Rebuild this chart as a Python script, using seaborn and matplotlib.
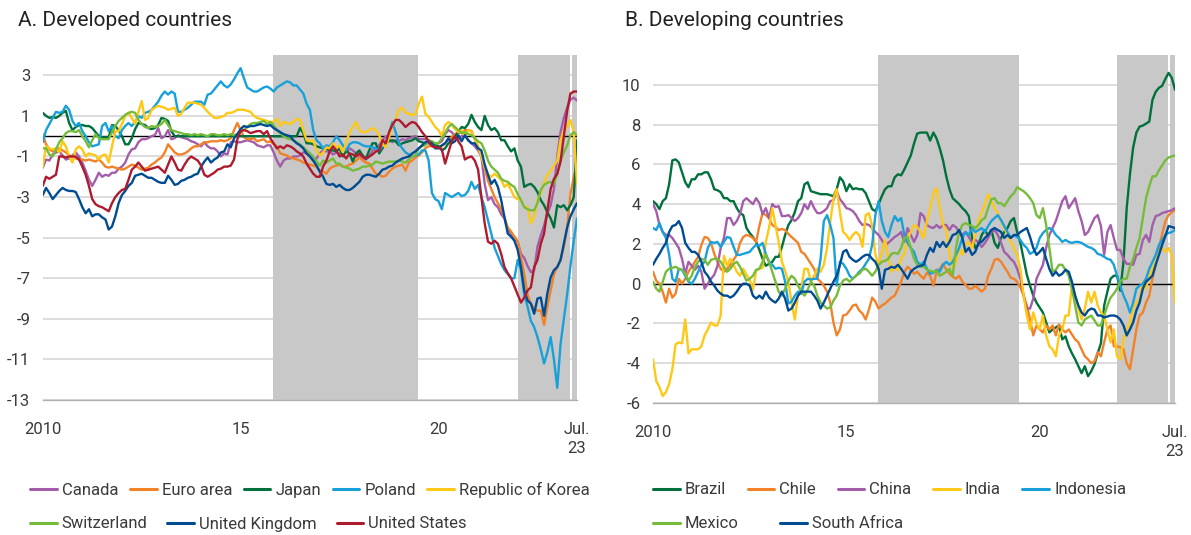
import numpy as np
import pandas as pd
import matplotlib
matplotlib.use("Agg")
import matplotlib.pyplot as plt
import seaborn as sns
from matplotlib.lines import Line2D

# ---------------- data (monthly, Jan 2010 - Jul 2023) ----------------
canada = [
    -1.55, -1.15, -1.2, -0.9, -0.8, -0.75, -0.95, -1.15, -1.1, -0.95, -0.8, -1.0,
    -1.3, -1.7, -2.15, -2.45, -2.15, -1.8, -2.0, -1.9, -1.95, -1.8, -1.8, -1.6,
    -1.5, -1.3, -0.9, -0.65, -0.6, -0.3, -0.15, -0.15, -0.1, 0.0, 0.05, 0.4,
    -0.1, 0.0, 0.3, -0.15, -0.1, 0.05, -0.05, -0.1, -0.15, -0.25, -0.3, -0.4,
    -0.5, -0.3, -0.5, -0.6, -0.6, -0.75, -1.0, -0.85, -0.9, -0.3, -0.25, -0.3,
    -0.3, -0.25, -0.2, -0.25, -0.3, -0.45, -0.5, -0.55, -0.45, -0.45, -0.8, -1.2,
    -1.5, -1.2, -1.1, -1.1, -1.0, -1.0, -0.95, -0.8, -0.85, -1.0, -1.2, -1.1,
    -0.85, -0.7, -0.75, -0.75, -0.9, -0.8, -0.85, -0.85, -0.8, -0.6, -0.7, -0.85,
    -1.0, -1.1, -1.15, -1.0, -0.7, -0.6, -0.45, -0.2, 0.0, -0.15, -0.3, -0.2,
    -0.25, -0.15, -0.2, -0.1, -0.05, 0.0, -0.15, -0.15, -0.15, -0.2, -0.3, -0.35,
    -0.35, -0.25, 0.1, 0.3, 0.2, 0.0, -0.15, 0.0, 0.05, -0.2, -0.35, -0.5,
    -0.7, -1.0, -2.35, -3.15, -3.0, -3.35, -3.5, -3.85, -4.05, -4.6, -4.8, -5.0,
    -5.2, -5.8, -6.0, -6.4, -6.7, -6.6, -5.45, -4.9, -4.4, -3.8, -3.4, -2.6,
    -1.0, 0.2, 0.9, 1.4, 1.8, 1.9, 1.75]
euro_area = [
    0.1, -0.4, -0.65, -0.75, -0.7, -0.6, -0.7, -0.8, -0.95, -1.0, -1.1, -1.15,
    -1.15, -1.2, -1.15, -1.2, -1.25, -1.15, -1.3, -1.5, -1.55, -1.5, -1.55, -1.6,
    -1.65, -1.6, -1.5, -1.4, -1.45, -1.55, -1.65, -1.6, -1.55, -1.4, -1.3, -1.15,
    -1.05, -0.8, -0.4, -0.6, -0.8, -0.9, -0.9, -0.85, -0.75, -0.6, -0.5, -0.5,
    -0.4, -0.3, -0.3, -0.25, -0.25, -0.25, -0.2, -0.25, -0.2, -0.1, 0.3, 0.65,
    0.3, -0.05, -0.15, -0.15, -0.1, -0.25, -0.2, -0.15, -0.3, -0.25, -0.4, -0.5,
    -0.85, -0.9, -0.95, -1.05, -1.1, -1.15, -1.2, -1.3, -1.35, -1.4, -1.45, -1.5,
    -1.7, -1.75, -1.85, -1.6, -1.5, -1.45, -1.4, -1.5, -1.5, -1.4, -1.35, -1.2,
    -1.05, -1.2, -1.3, -1.35, -1.6, -1.85, -1.9, -2.0, -1.95, -1.75, -1.6, -1.5,
    -1.45, -1.4, -1.7, -1.3, -1.2, -1.05, -0.95, -0.8, -0.6, -0.5, -0.45, -0.45,
    -0.5, -0.5, -0.35, -0.15, -0.05, 0.1, 0.2, 0.15, 0.3, 0.3, 0.25, -0.15,
    -0.55, -1.0, -1.6, -2.2, -2.6, -3.0, -3.3, -3.6, -4.0, -4.5, -4.7, -4.95,
    -5.2, -5.95, -6.8, -7.8, -8.25, -8.5, -8.6, -8.6, -9.3, -8.4, -7.6, -6.8,
    -6.45, -6.1, -5.45, -4.5, -2.85, -2.0, -1.5]
japan = [
    1.15, 1.0, 0.9, 0.95, 0.9, 1.0, 1.15, 1.25, 0.65, 0.3, 0.45, 0.55,
    0.55, 0.5, 0.5, 0.4, 0.2, 0.0, -0.05, -0.05, -0.05, 0.55, 0.5, 0.3,
    0.0, -0.4, -0.4, -0.1, 0.35, 0.65, 0.6, 0.55, 0.4, 0.35, 0.4, 0.55,
    0.9, 0.85, 0.75, 0.25, 0.0, 0.0, 0.0, 0.0, 0.0, 0.0, 0.0, 0.0,
    0.0, 0.0, 0.0, 0.0, 0.0, 0.0, 0.0, 0.0, 0.0, 0.0, 0.0, 0.0,
    0.0, 0.0, 0.0, 0.0, 0.0, 0.0, 0.0, 0.0, 0.0, 0.0, 0.0, 0.0,
    0.0, 0.0, 0.0, 0.0, 0.0, 0.0, 0.4, 0.15, -0.35, -0.35, -0.4, -0.5,
    -0.55, -0.6, -0.6, -0.7, -0.7, -0.75, -0.6, -1.0, -0.7, -0.85, -1.25, -0.85,
    -0.7, -0.95, -1.1, -0.7, -0.35, -0.35, -0.85, -0.6, -0.35, -0.25, -0.2, -0.25,
    -0.45, -0.35, -0.3, -0.25, -0.2, -0.1, -0.25, -0.3, -0.35, -0.35, -0.35, -0.45,
    -0.5, -0.7, -0.6, -0.35, -0.2, 0.0, 0.2, 0.45, 0.4, 0.6, 1.05, 0.7,
    0.45, 0.3, 1.0, 0.55, 0.3, 0.4, 0.2, -0.2, -0.2, -0.5, -0.75, -0.6,
    -1.2, -1.5, -2.5, -2.4, -2.35, -2.5, -2.75, -3.15, -3.4, -3.75, -4.05, -4.5,
    -3.4, -3.5, -3.4, -3.65, -3.4, -3.0, -0.2]
poland = [
    -0.3, 0.3, 0.6, 0.9, 1.2, 1.15, 1.2, 1.5, 1.3, 0.75, 0.5, 0.65,
    0.25, 0.0, -0.3, -0.5, -0.45, -0.4, 0.5, 0.65, 0.25, 0.5, 0.0, -0.1,
    0.3, 0.5, 0.65, 0.5, 0.7, 1.0, 0.9, 1.15, 1.2, 1.3, 1.5, 1.7,
    2.0, 2.2, 2.05, 2.2, 2.1, 1.2, 1.2, 1.3, 1.4, 1.55, 1.7, 1.7,
    1.7, 1.55, 2.05, 2.1, 2.3, 2.5, 2.7, 2.5, 2.4, 2.55, 2.8, 3.1,
    3.35, 2.85, 2.4, 2.3, 2.2, 2.2, 2.3, 2.4, 2.45, 2.35, 2.2, 2.4,
    2.5, 2.6, 2.7, 2.65, 2.5, 2.5, 2.3, 2.1, 1.6, 1.3, 0.3, -0.2,
    -0.35, -0.6, -0.45, -0.5, -0.3, 0.0, -0.2, -0.45, -0.7, -0.4, -0.3, -0.3,
    -0.35, -0.45, -0.5, -0.5, -0.55, -0.6, -0.7, -0.5, -0.35, 0.1, 0.7, 0.2,
    -0.35, -0.6, -0.8, -0.9, -1.0, -0.95, -0.9, -0.7, -0.7, -1.2, -2.8, -3.1,
    -3.2, -3.6, -2.8, -2.9, -3.0, -2.9, -2.8, -2.95, -2.9, -2.7, -2.25, -2.6,
    -2.4, -3.0, -3.5, -4.15, -4.8, -5.5, -5.9, -6.3, -6.6, -6.8, -7.0, -7.0,
    -6.1, -6.6, -7.8, -8.4, -9.1, -9.4, -9.9, -10.5, -11.2, -10.65, -9.9, -11.0,
    -12.4, -10.25, -9.0, -7.8, -6.4, -5.15, -4.05]
korea = [
    -1.5, -0.5, -0.6, -0.65, -0.6, -0.8, -0.25, -0.5, -1.0, -1.3, -0.65, -0.5,
    -0.65, -1.0, -0.85, -0.9, -0.95, -1.15, -0.95, -0.9, -1.3, -0.5, 0.25, 0.25,
    0.6, 1.0, 1.15, 0.9, 0.6, 1.2, 1.73, 0.8, 0.9, 1.3, 1.4, 1.5,
    1.45, 1.4, 1.3, 1.35, 1.4, 1.0, 1.1, 1.4, 1.65, 1.65, 1.65, 1.6,
    1.55, 1.4, 1.2, 1.05, 0.9, 0.9, 0.95, 1.0, 1.15, 1.15, 1.2, 1.3,
    1.3, 1.3, 1.25, 1.2, 1.0, 0.9, 0.85, 0.8, 0.75, 0.7, 0.7, 0.85,
    0.5, 0.7, 0.65, 0.6, 0.7, 0.85, 0.8, 0.3, -0.2, -0.25, -0.2, -0.7,
    -0.95, -0.8, -0.55, -0.6, -0.35, -0.6, -0.45, -0.8, -0.35, 0.2, 0.45, 0.7,
    0.3, 0.2, 0.2, 0.3, 0.4, 0.3, 0.05, -0.4, -0.55, -0.05, 0.5, 0.85,
    1.3, 1.4, 1.15, 1.1, 1.05, 1.05, 1.6, 1.95, 1.1, 0.95, 0.7, 0.45,
    0.3, 0.0, 0.55, 0.7, 0.55, 0.35, 0.2, 0.3, 0.0, 0.3, 0.2, -0.1,
    -0.5, -1.0, -1.5, -1.9, -2.0, -1.85, -2.0, -2.15, -2.5, -2.35, -2.65, -3.0,
    -3.1, -3.15, -3.5, -3.5, -4.3, -3.95, -3.15, -2.8, -2.3, -1.9, -1.7, -1.45,
    -1.2, -0.2, 0.3, 0.45, 0.8, 0.2, -2.35]
switzerland = [
    -0.6, -0.6, -0.9, -1.0, -0.65, -0.3, -0.1, 0.15, 0.25, 0.25, 0.2, 0.3,
    0.0, -0.25, -0.55, -0.2, 0.1, -0.1, -0.15, -0.15, -0.15, 0.2, 0.5, 0.75,
    0.9, 1.05, 1.15, 1.2, 1.15, 0.8, 0.6, 0.45, 0.4, 0.5, 0.45, 0.5,
    0.6, 0.8, 0.55, 0.3, 0.25, 0.2, 0.15, 0.1, 0.1, 0.05, 0.1, 0.05,
    0.1, 0.05, 0.0, 0.1, 0.1, 0.05, 0.05, 0.1, 0.05, 0.1, 0.05, 0.1,
    0.25, 0.3, 0.45, 0.6, 0.65, 0.65, 0.7, 0.75, 0.6, 0.7, 0.55, 0.3,
    0.15, 0.0, -0.1, -0.15, -0.2, -0.3, -0.4, -0.55, -0.7, -0.85, -1.0, -1.25,
    -1.45, -1.2, -1.3, -1.2, -1.1, -1.35, -1.35, -1.5, -1.55, -1.6, -1.7, -1.65,
    -1.6, -1.5, -1.5, -1.45, -1.4, -1.25, -1.3, -1.35, -1.3, -1.25, -1.25, -1.25,
    -1.2, -1.25, -1.3, -1.15, -1.0, -0.95, -0.6, -0.5, -0.45, -0.2, -0.25, -0.35,
    -0.35, -0.1, 0.15, 0.45, 0.6, 0.45, 0.3, 0.15, 0.2, 0.1, 0.05, -0.1,
    -0.25, -0.35, -0.7, -1.2, -1.5, -1.65, -1.8, -2.1, -2.2, -2.25, -2.4, -2.5,
    -2.85, -3.15, -3.5, -3.6, -3.65, -3.65, -3.3, -2.65, -2.4, -2.3, -2.25, -2.35,
    -1.85, -1.2, -0.8, -0.45, 0.05, 0.2, 0.05]
united_kingdom = [
    -2.9, -2.55, -2.8, -3.1, -2.9, -2.7, -2.55, -2.65, -2.7, -2.7, -2.75, -3.1,
    -3.5, -3.8, -3.6, -3.95, -3.85, -3.85, -4.0, -4.1, -4.6, -4.45, -3.95, -3.3,
    -2.9, -2.7, -2.45, -2.3, -1.95, -1.9, -1.85, -1.95, -2.05, -2.05, -2.15, -2.25,
    -2.3, -2.3, -1.95, -2.15, -2.4, -2.35, -2.2, -2.15, -2.05, -2.0, -1.9, -1.85,
    -1.5, -1.25, -1.05, -1.3, -1.15, -1.05, -0.8, -0.75, -0.4, -0.55, -0.1, 0.1,
    0.35, 0.5, 0.45, 0.5, 0.5, 0.55, 0.6, 0.55, 0.5, 0.55, 0.4, 0.3,
    0.2, 0.1, 0.05, 0.0, -0.2, -0.35, -0.45, -0.6, -0.85, -1.0, -1.2, -1.45,
    -1.75, -2.0, -2.35, -2.4, -2.35, -2.5, -2.4, -2.55, -2.65, -2.65, -2.55, -2.4,
    -2.25, -2.0, -1.9, -1.9, -1.95, -2.0, -1.85, -1.65, -1.6, -1.5, -1.45, -1.3,
    -1.2, -1.1, -1.05, -1.0, -0.85, -0.75, -0.6, -0.45, -0.3, -0.25, -0.35, -0.6,
    -0.6, -0.45, -0.35, -0.1, -0.35, -0.25, 0.05, -0.25, 0.05, -0.2, -0.35, -0.35,
    -0.6, -0.7, -1.4, -1.9, -2.35, -2.15, -2.5, -3.15, -4.0, -4.8, -4.95, -5.15,
    -5.6, -6.45, -7.6, -8.1, -8.25, -8.75, -8.0, -7.95, -8.85, -7.75, -6.95, -6.6,
    -6.45, -6.1, -5.3, -4.5, -3.95, -3.6, -3.3]
united_states = [
    -2.45, -2.0, -2.1, -2.0, -1.9, -1.0, -1.0, -1.05, -1.0, -1.0, -1.0, -1.15,
    -1.5, -1.9, -2.45, -3.1, -3.35, -3.45, -3.5, -3.6, -3.7, -3.3, -3.0, -2.8,
    -2.65, -2.6, -2.15, -1.65, -1.5, -1.3, -1.5, -1.7, -1.65, -1.6, -1.55, -1.5,
    -1.65, -1.8, -1.4, -1.0, -1.3, -1.65, -1.7, -1.4, -1.15, -1.0, -1.1, -1.2,
    -1.45, -1.9, -2.0, -1.9, -1.8, -1.65, -1.6, -1.5, -1.5, -1.45, -1.15, -0.15,
    0.25, 0.3, 0.25, 0.15, 0.2, 0.25, 0.25, 0.1, 0.25, -0.1, -0.35, -0.6,
    -0.5, -0.6, -0.45, -0.5, -0.6, -0.75, -0.85, -1.0, -1.35, -1.6, -1.85, -2.0,
    -2.0, -1.5, -1.2, -0.75, -0.5, -0.7, -1.0, -0.9, -1.1, -0.85, -0.9, -1.0,
    -0.85, -1.0, -1.1, -1.0, -0.9, -0.75, -0.7, -0.2, -0.35, 0.2, 0.55, 0.8,
    0.8, 0.65, 0.45, 0.6, 0.7, 0.65, 0.45, 0.2, 0.0, -0.25, -0.5, -0.55,
    -0.55, -0.65, -1.35, -0.8, -0.25, 0.0, -0.25, -0.5, -1.15, -1.05, -1.0, -1.2,
    -1.65, -3.0, -4.3, -5.2, -5.3, -5.15, -5.3, -5.8, -6.45, -6.75, -7.0, -7.4,
    -7.8, -8.2, -7.95, -7.6, -7.45, -6.45, -6.1, -5.3, -4.8, -3.65, -2.6, -2.1,
    -1.85, -1.25, 0.0, 1.25, 2.1, 2.2, 2.2]

brazil = [
    4.15, 4.0, 3.75, 4.15, 4.3, 5.0, 6.2, 6.25, 6.1, 5.6, 5.1, 4.85,
    5.25, 5.25, 5.5, 5.5, 5.6, 5.6, 5.25, 4.75, 4.7, 4.6, 4.3, 4.3,
    4.15, 4.15, 3.8, 3.55, 3.45, 2.8, 2.55, 2.35, 2.1, 1.7, 1.25, 0.9,
    1.0, 1.1, 1.35, 1.35, 1.85, 2.45, 2.95, 3.2, 3.6, 4.15, 4.3, 5.0,
    5.1, 4.65, 4.6, 4.55, 4.5, 4.5, 4.5, 4.45, 4.4, 4.75, 5.35, 5.15,
    4.65, 5.0, 4.75, 4.8, 4.75, 4.75, 4.55, 4.15, 3.75, 3.65, 4.0, 4.4,
    4.75, 4.9, 4.9, 5.35, 5.5, 5.45, 5.75, 6.1, 6.45, 7.05, 7.55, 7.6,
    7.6, 7.6, 7.2, 7.6, 7.3, 6.8, 6.2, 5.4, 4.75, 4.3, 4.15, 4.0,
    3.8, 3.65, 3.4, 2.3, 1.8, 1.95, 2.45, 2.7, 2.4, 2.7, 2.05, 1.8,
    2.3, 2.6, 2.8, 3.15, 3.3, 2.6, 2.05, 1.25, 0.45, -0.1, -0.6, -0.95,
    -1.2, -1.45, -1.95, -2.45, -2.3, -2.2, -2.1, -2.8, -2.65, -3.15, -3.5, -3.8,
    -4.15, -4.5, -4.15, -4.65, -4.4, -4.05, -3.5, -3.0, -1.1, -0.4, 0.25, 0.4,
    0.4, -0.35, 1.1, 3.8, 5.5, 6.85, 7.6, 7.9, 7.95, 8.05, 8.15, 9.25,
    9.65, 9.85, 9.95, 10.3, 10.6, 10.35, 9.75]
chile = [
    0.6, 0.15, 0.0, -0.4, -0.95, -0.25, -0.7, -0.5, 0.25, 0.0, 0.25, 0.6,
    0.85, 1.1, 1.35, 1.95, 2.35, 2.3, 2.05, 1.5, 1.1, 0.75, 0.6, 0.75,
    0.95, 1.2, 1.45, 2.05, 2.35, 2.45, 2.4, 2.3, 2.1, 2.9, 3.55, 3.45,
    3.3, 2.95, 2.85, 2.7, 2.75, 2.7, 2.5, 2.35, 2.2, 2.05, 1.6, 1.5,
    1.25, 1.0, 0.75, 0.25, 0.1, -0.1, -0.4, -0.95, -1.95, -2.6, -2.3, -1.6,
    -1.55, -1.35, -1.1, -1.05, -1.35, -1.5, -1.8, -1.3, -0.7, -0.9, -1.25, -1.1,
    -1.0, -0.85, -0.7, -0.6, -0.25, 0.1, 0.6, 0.85, 0.7, 0.5, 0.6, 0.4,
    0.25, 0.55, 0.4, -0.1, 0.6, 0.75, 1.0, 0.7, 0.5, 0.35, 0.25, 0.4,
    0.1, -0.05, -0.25, -0.25, -0.1, -0.25, -0.4, -0.25, 0.4, 0.75, 1.2, 1.25,
    1.1, 0.85, 0.6, 0.3, 0.25, 0.1, -0.2, -0.6, -1.1, -1.8, -2.6, -2.1,
    -2.3, -2.45, -2.1, -2.3, -2.1, -2.6, -2.05, -2.3, -2.45, -2.3, -2.55, -2.8,
    -2.95, -3.3, -3.65, -3.8, -4.0, -3.9, -3.45, -3.65, -2.95, -2.3, -2.1, -3.15,
    -3.15, -3.2, -3.3, -4.0, -4.3, -3.3, -2.3, -1.6, -1.45, -0.95, -0.6, 0.25,
    1.0, 1.8, 2.5, 3.15, 3.45, 3.6, 3.7]
china = [
    4.0, 3.65, 2.95, 2.6, 2.45, 2.45, 2.3, 2.05, 1.8, 1.25, 0.5, 1.1,
    0.9, 0.7, 0.9, 0.6, -0.25, 0.0, 0.25, 0.45, 0.9, 1.8, 2.3, 3.3,
    3.3, 2.95, 3.15, 3.5, 4.15, 4.3, 4.15, 4.0, 4.3, 4.05, 3.5, 3.8,
    3.3, 4.0, 3.85, 3.9, 3.4, 3.4, 3.45, 3.3, 3.15, 3.3, 3.55, 4.0,
    3.75, 4.15, 3.8, 3.55, 3.55, 3.65, 3.8, 4.15, 4.2, 4.65, 4.25, 4.05,
    3.8, 3.75, 3.65, 3.45, 3.15, 2.95, 3.0, 2.95, 2.8, 2.6, 2.45, 2.2,
    1.95, 2.05, 2.2, 2.35, 2.45, 2.6, 2.1, 2.8, 2.45, 2.1, 2.45, 3.55,
    3.4, 2.95, 2.85, 2.8, 2.95, 2.8, 2.95, 2.95, 2.7, 2.95, 2.85, 2.6,
    2.45, 2.6, 2.35, 2.05, 2.2, 2.1, 1.85, 2.05, 2.3, 2.6, 2.7, 2.45,
    2.05, 1.6, 1.45, 1.25, 1.1, 0.75, 0.25, -0.6, -1.25, -1.25, -0.75, 0.25,
    0.6, 0.95, 1.8, 2.45, 2.8, 3.15, 3.65, 4.15, 4.4, 3.8, 4.05, 4.3,
    3.65, 3.15, 2.45, 2.6, 2.95, 3.3, 3.45, 2.9, 1.45, 2.6, 2.95, 2.3,
    1.7, 1.7, 1.25, 1.0, 1.0, 0.95, 1.45, 1.5, 2.2, 2.45, 2.1, 2.95,
    3.4, 3.45, 3.55, 3.6, 3.65, 3.7, 3.8]
india = [
    -3.8, -4.9, -5.2, -5.65, -5.45, -5.05, -4.3, -3.05, -2.95, -3.0, -1.8, -3.5,
    -3.3, -3.3, -3.3, -3.15, -2.6, -2.3, -1.95, -2.1, -2.1, -1.6, 1.4, 0.9,
    1.25, 0.95, 0.6, 0.4, 0.75, 0.45, 0.2, -0.3, 0.65, 0.75, 0.8, 2.1,
    2.8, 3.8, 2.95, 2.1, 1.1, 0.65, 0.1, -0.95, -1.8, -0.6, -0.25, 0.75,
    0.75, 0.1, 0.4, 0.75, 0.6, 0.95, 1.8, 3.1, 4.3, 4.75, 3.6, 2.6,
    2.45, 2.2, 2.45, 2.6, 2.45, 1.85, 3.45, 3.55, 2.9, 1.5, 0.85, 1.6,
    2.2, 1.3, 0.6, 0.9, 0.65, 1.25, 1.5, 2.3, 2.6, 2.95, 2.85, 2.6,
    2.3, 3.15, 3.8, 4.55, 4.8, 3.8, 2.95, 2.7, 1.45, 0.75, 1.1, 1.8,
    1.45, 1.95, 2.1, 1.8, 2.45, 3.15, 3.6, 4.0, 4.5, 4.15, 3.8, 3.55,
    3.15, 2.8, 2.45, 2.1, 1.8, 1.45, 0.75, -0.6, -1.6, -2.3, -1.45, -2.0,
    -2.3, -1.6, -2.6, -3.15, -3.3, -3.65, -2.6, -2.3, -1.6, -1.6, -0.1, -0.6,
    -1.25, -1.8, -1.25, -0.4, -0.95, -0.4, -1.1, -1.45, -1.6, -2.3, -2.95, -2.3,
    -3.65, -3.8, -2.8, -2.3, -1.95, -1.25, -0.95, -0.75, 0.1, -0.25, 0.4, 0.75,
    1.1, 1.6, 1.8, 1.6, 1.8, 1.45, -0.95]
indonesia = [
    2.8, 2.7, 3.05, 2.6, 2.3, 1.45, 0.25, 0.1, 0.75, 0.7, 0.4, 0.1,
    0.0, 0.25, 0.6, 0.95, 1.1, 1.8, 2.1, 2.05, 2.1, 1.85, 2.1, 2.35,
    2.3, 1.85, 1.45, 1.45, 1.5, 1.55, 1.6, 1.8, 1.95, 1.9, 2.05, 1.5,
    1.1, 0.95, 0.75, 0.8, 0.75, 0.1, -1.0, -0.9, -0.6, -0.4, -0.5, 0.1,
    0.25, 0.2, 0.25, 0.25, 1.25, 3.15, 3.45, 2.95, 2.3, -0.1, 1.1, 1.0,
    0.75, 0.4, 0.25, 0.4, 0.6, 0.75, 1.0, 1.25, 1.95, 3.45, 4.15, 3.15,
    2.6, 2.35, 2.95, 3.4, 3.15, 3.3, 2.45, 2.05, 1.8, 1.6, 1.1, 0.95,
    1.1, 0.75, 0.5, 0.55, 0.7, 0.6, 0.95, 1.1, 0.95, 1.1, 1.45, 1.8,
    2.3, 2.6, 2.45, 2.8, 2.6, 2.7, 2.8, 2.6, 2.9, 3.15, 3.3, 3.45,
    3.2, 2.9, 2.6, 2.3, 2.45, 2.35, 2.2, 1.95, 1.8, 1.5, 1.6, 1.8,
    2.3, 2.55, 2.7, 2.8, 2.7, 2.45, 2.3, 2.1, 2.2, 2.1, 2.05, 2.1,
    2.1, 2.05, 1.95, 1.85, 1.8, 1.7, 1.5, 1.45, 1.35, 1.25, 1.2, 0.95,
    0.4, -0.1, -0.6, -0.95, -1.45, -0.95, -0.25, -0.1, 0.0, 0.25, 0.75, 1.1,
    1.45, 1.95, 2.2, 2.45, 2.55, 2.6, 2.7]
mexico = [
    0.1, -0.25, -0.4, 0.1, 0.6, 0.75, 0.8, 0.85, 0.75, 0.7, 0.5, 0.15,
    0.4, 0.85, 1.1, 1.25, 1.2, 0.95, 1.2, 1.25, 1.25, 1.1, 0.85, 0.6,
    0.75, 1.0, 1.1, 0.85, 0.5, 0.15, 0.25, 0.4, 0.7, 0.75, 1.1, 1.45,
    1.1, 0.6, 0.1, -0.4, -0.6, -0.25, 0.15, 0.4, 0.25, -0.1, -0.4, -0.6,
    -0.3, 0.1, -0.1, -0.6, -0.95, -1.1, -1.25, -1.2, -0.85, -0.6, -0.1, 0.15,
    0.25, 0.1, 0.25, 0.4, 0.5, 0.7, 0.75, 0.6, 0.4, 0.6, 0.95, 1.1,
    1.15, 1.25, 1.5, 1.55, 1.5, 1.8, 2.3, 2.35, 1.8, 1.25, 0.95, 0.85,
    0.85, 0.7, 0.65, 0.6, 0.65, 0.4, 0.5, 0.6, 0.75, 0.4, 1.8, 2.6,
    2.95, 3.05, 2.95, 2.9, 2.8, 2.95, 3.2, 3.3, 3.8, 4.25, 4.3, 4.05,
    4.05, 3.9, 4.15, 4.4, 4.55, 4.85, 4.75, 4.65, 4.5, 4.3, 4.05, 3.45,
    3.3, 3.8, 2.95, 1.8, 0.6, 0.7, 0.95, 0.95, 0.7, 0.4, -0.25, -1.1,
    -1.95, -2.1, -1.8, -1.7, -1.6, -1.85, -2.1, -2.1, -1.6, -1.1, -0.7, -0.5,
    -0.25, 0.1, 0.25, 0.25, 0.85, 1.25, 1.8, 2.3, 3.3, 4.3, 4.9, 5.4,
    5.4, 5.7, 5.95, 6.2, 6.35, 6.4, 6.45]
south_africa = [
    0.95, 1.25, 1.5, 1.8, 2.05, 2.6, 2.9, 2.95, 3.15, 2.8, 2.05, 1.8,
    1.6, 1.6, 1.45, 1.1, 0.6, 0.4, 0.1, -0.1, -0.35, -0.5, -0.6, -0.6,
    -0.7, -0.6, -0.4, -0.15, 0.0, 0.0, -0.1, -0.6, -0.75, -0.6, -0.75, -0.4,
    -0.7, -0.85, -0.95, -0.75, -0.4, -0.75, -1.35, -1.25, -0.95, -0.6, -0.4, -0.4,
    -0.4, -0.4, -0.6, -0.85, -1.25, -0.95, -0.6, -0.25, 0.1, 0.4, 0.95, 1.6,
    1.7, 1.35, 1.2, 1.1, 1.2, 1.35, 1.45, 1.45, 1.25, 1.1, 0.75, -0.25,
    0.7, 0.75, 0.85, 0.8, 0.95, 0.75, 0.5, 0.25, 0.6, 0.75, 0.85, 0.9,
    0.95, 1.45, 1.8, 1.6, 2.1, 1.85, 2.1, 1.85, 2.1, 2.45, 2.5, 2.7,
    2.3, 1.6, 1.8, 1.45, 1.6, 2.05, 2.1, 2.3, 2.45, 2.7, 2.8, 2.7,
    2.6, 2.3, 2.45, 2.3, 2.45, 2.45, 2.6, 2.7, 2.8, 2.35, 1.8, 1.45,
    1.6, 1.8, 1.25, 0.75, 0.4, 0.6, 0.4, 0.5, 0.7, 0.6, 0.1, -0.6,
    -1.1, -1.45, -1.6, -1.35, -1.25, -1.3, -1.6, -1.6, -1.7, -1.65, -1.6, -1.6,
    -1.65, -1.8, -2.1, -2.6, -2.3, -1.95, -1.35, -0.95, -0.25, 0.1, 0.25, 0.4,
    0.95, 1.45, 1.95, 2.4, 2.9, 2.85, 2.8]

names_a = ["Canada", "Euro area", "Japan", "Poland", "Republic of Korea",
           "Switzerland", "United Kingdom", "United States"]
series_a = [canada, euro_area, japan, poland, korea, switzerland,
            united_kingdom, united_states]
names_b = ["Brazil", "Chile", "China", "India", "Indonesia", "Mexico",
           "South Africa"]
series_b = [brazil, chile, china, india, indonesia, mexico, south_africa]

# shaded periods (decimal years)
shade_periods = [(2015.83, 2019.47), (2022.0, 2023.33), (2023.38, 2023.5)]

# ---------------- style ----------------
sns.set_style("white")
plt.rcParams["font.family"] = ["Roboto", "DejaVu Sans"]
plt.rcParams["axes.unicode_minus"] = False

C_PURPLE = "#A35DAA"
C_ORANGE = "#F28228"
C_DGREEN = "#00703C"
C_LBLUE = "#18A0DB"
C_YELLOW = "#FFC815"
C_LGREEN = "#76BC3B"
C_DBLUE = "#004C93"
C_RED = "#AE1A2E"
colors_a = [C_PURPLE, C_ORANGE, C_DGREEN, C_LBLUE, C_YELLOW, C_LGREEN, C_DBLUE, C_RED]
colors_b = [C_DGREEN, C_ORANGE, C_PURPLE, C_YELLOW, C_LBLUE, C_LGREEN, C_DBLUE]

TXT = "#3A3A3A"
n = len(canada)
years = 2010 + np.arange(n) / 12.0


def long_df(names, series):
    frames = []
    for nm, s in zip(names, series):
        assert len(s) == n, (nm, len(s))
        frames.append(pd.DataFrame({"year": years, "value": s, "country": nm}))
    return pd.concat(frames, ignore_index=True)


fig = plt.figure(figsize=(11.91, 5.35), dpi=100)
axA = fig.add_axes([0.0359, 0.2523, 0.4486, 0.6449])
axB = fig.add_axes([0.5483, 0.2467, 0.4383, 0.6505])


def style_axis(ax, ylim, yticks):
    ax.set_axisbelow(True)
    for a, b in shade_periods:
        ax.axvspan(a, b, color="#C8C8C8", lw=0, zorder=1)
    ax.axhline(0, color="black", lw=1.0, zorder=1.6)
    ax.set_xlim(2010, 2023.5)
    ax.set_ylim(*ylim)
    ax.set_yticks(yticks)
    ax.set_yticklabels([str(t) for t in yticks])
    ax.yaxis.grid(True, color="#D6D6D6", lw=1.2)
    ax.xaxis.grid(False)
    ax.set_xticks([2010, 2015, 2020, 2023.5])
    ax.set_xticklabels(["2010", "15", "20", "Jul.\n23"], linespacing=1.35)
    ax.set_xticks([y for y in range(2011, 2024) if y not in (2015, 2020)], minor=True)
    ax.tick_params(axis="x", which="major", length=7, width=1, color="#B0B0B0",
                   labelsize=12, labelcolor=TXT, pad=9)
    ax.tick_params(axis="x", which="minor", length=5, width=1, color="#B0B0B0")
    ax.tick_params(axis="y", length=0, labelsize=12, labelcolor=TXT, pad=9)
    for sp in ["left", "right", "top"]:
        ax.spines[sp].set_visible(False)
    ax.spines["bottom"].set_color("#B0B0B0")
    ax.spines["bottom"].set_linewidth(1)
    ax.set_xlabel("")
    ax.set_ylabel("")


dfA = long_df(names_a, series_a)
dfB = long_df(names_b, series_b)
sns.lineplot(data=dfA, x="year", y="value", hue="country", hue_order=names_a,
             palette=colors_a, linewidth=1.7, ax=axA, legend=False,
             estimator=None, errorbar=None, zorder=2)
sns.lineplot(data=dfB, x="year", y="value", hue="country", hue_order=names_b,
             palette=colors_b, linewidth=1.7, ax=axB, legend=False,
             estimator=None, errorbar=None, zorder=2)
style_axis(axA, (-13, 4.0), list(range(-13, 4, 2)))
style_axis(axB, (-6, 11.5), list(range(-6, 11, 2)))

fig.text(18 / 1191, 1 - 20 / 535, "A. Developed countries", fontsize=15,
         color="#222222", ha="left", va="center")
fig.text(625 / 1191, 1 - 20 / 535, "B. Developing countries", fontsize=15,
         color="#222222", ha="left", va="center")


def row_legend(names, colors, x_px, y_px, colspacing):
    handles = [Line2D([], [], color=c, lw=2.2) for c in colors]
    fig.legend(handles, names, loc="center left",
               bbox_to_anchor=(x_px / 1191, 1 - y_px / 535),
               bbox_transform=fig.transFigure, ncol=len(names), frameon=False,
               fontsize=12, labelcolor=TXT, handlelength=1.6, handletextpad=0.3,
               columnspacing=colspacing, borderpad=0, borderaxespad=0)


row_legend(names_a[:5], colors_a[:5], 30, 490, 0.7)
row_legend(names_a[5:], colors_a[5:], 30, 524, 1.2)
row_legend(names_b[:5], colors_b[:5], 653, 490, 1.3)
row_legend(names_b[5:], colors_b[5:], 653, 524, 2.5)

fig.savefig("out.png", dpi=100)
